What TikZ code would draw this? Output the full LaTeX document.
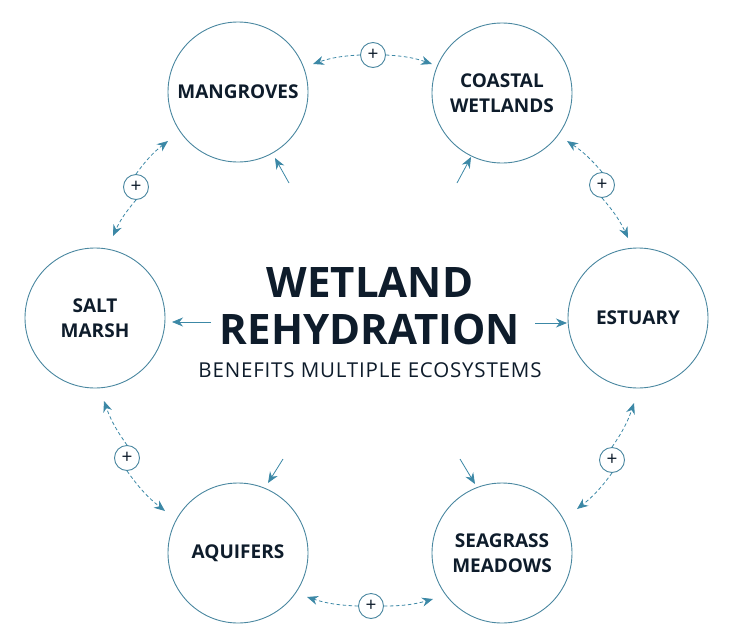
\documentclass[tikz,border=0pt]{standalone}
\usepackage{fontspec}
\setmainfont{Open Sans}
\usetikzlibrary{arrows.meta}
\definecolor{ring}{HTML}{4A87A0}
\definecolor{arr}{HTML}{3C88A6}
\definecolor{ink}{HTML}{0E1C2B}
\begin{document}
\begin{tikzpicture}[x=1pt,y=-1pt,
  eco/.style={circle,draw=ring,line width=0.9pt,minimum size=140pt,inner sep=0pt,align=center,text=ink,font=\fontsize{19}{25}\selectfont\bfseries},
  plus/.style={circle,draw=ring,line width=0.9pt,minimum size=25pt,inner sep=0pt,fill=white,text=ink,font=\fontsize{19}{19}\selectfont},
  dl/.style={draw=arr,dash pattern=on 3.5pt off 2.5pt,line width=0.8pt,-{Stealth[length=11pt,width=9pt]}},
  sl/.style={draw=arr,line width=0.8pt,-{Stealth[length=11pt,width=9pt]}}]
\useasboundingbox (0,0) rectangle (734,627);
\node[eco] (m) at (238,92) {MANGROVES};
\node[eco] (c) at (502,93) {COASTAL\\WETLANDS};
\node[eco] (e) at (638,318) {ESTUARY};
\node[eco] (s) at (502,553) {SEAGRASS\\MEADOWS};
\node[eco] (a) at (238,553) {AQUIFERS};
\node[eco] (sm) at (95,318) {SALT\\MARSH};
\node[plus] (p1) at (373,55) {+};
\node[plus] (p2) at (136,187) {+};
\node[plus] (p3) at (602,185) {+};
\node[plus] (p4) at (612,460) {+};
\node[plus] (p5) at (127,458) {+};
\node[plus] (p6) at (371,606) {+};
\coordinate (t1a) at (313,64); \coordinate (t1b) at (432,64);
\coordinate (t2a) at (168,141); \coordinate (t2b) at (113,236);
\coordinate (t3a) at (567,141); \coordinate (t3b) at (628,238);
\coordinate (t4a) at (634,403); \coordinate (t4b) at (577,509);
\coordinate (t5a) at (104,401); \coordinate (t5b) at (165,511);
\coordinate (t6a) at (307,597); \coordinate (t6b) at (433,599);
\draw[dl] (p1.west) to[bend right=8] (t1a);
\draw[dl] (p1.east) to[bend left=8] (t1b);
\draw[dl] (p2.north) to[bend left=8] (t2a);
\draw[dl] (p2.south) to[bend right=8] (t2b);
\draw[dl] (p3.north) to[bend right=8] (t3a);
\draw[dl] (p3.south) to[bend left=8] (t3b);
\draw[dl] (p4.north) to[bend right=8] (t4a);
\draw[dl] (p4.south) to[bend left=8] (t4b);
\draw[dl] (p5.north) to[bend left=8] (t5a);
\draw[dl] (p5.south) to[bend right=8] (t5b);
\draw[dl] (p6.west) to[bend left=8] (t6a);
\draw[dl] (p6.east) to[bend right=8] (t6b);
\node[text=ink,font=\fontsize{42}{47}\selectfont\bfseries,align=center] (t) at (370,306) {WETLAND\\REHYDRATION};
\node[text=ink,font=\fontsize{20.5}{22}\selectfont] (sub) at (370,370) {\addfontfeatures{LetterSpace=4}BENEFITS MULTIPLE ECOSYSTEMS};
\coordinate (u1) at (289,183); \coordinate (u2) at (457,183);
\coordinate (u3) at (211,322); \coordinate (u4) at (535,323);
\coordinate (u5) at (283,459); \coordinate (u6) at (460,459);
\draw[sl] (u1) -- (275,158);
\draw[sl] (u2) -- (471,157);
\draw[sl] (u3) -- (172,322);
\draw[sl] (u4) -- (567,323);
\draw[sl] (u5) -- (268,483);
\draw[sl] (u6) -- (475,484);
\end{tikzpicture}
\end{document}
